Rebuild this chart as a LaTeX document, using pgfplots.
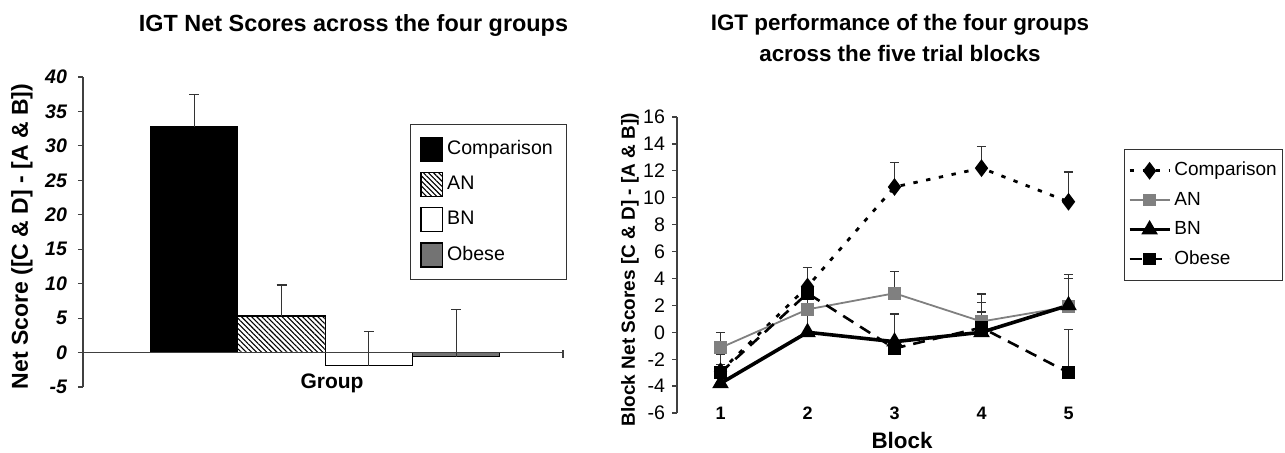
\documentclass[border=0pt]{standalone}
\usepackage{fontspec}
\setmainfont{Liberation Sans}
\usepackage{pgfplots}
\pgfplotsset{compat=1.18}
\usetikzlibrary{patterns.meta}

\begin{document}
\begin{tikzpicture}
\path[use as bounding box] (0,0) rectangle (642.5pt,226pt);

% ---------------- Left: bar chart ----------------
\begin{axis}[
  at={(41.5pt,32.5pt)}, anchor=south west,
  scale only axis, width=240pt, height=155pt,
  xmin=-0.274, xmax=5.224, ymin=-5, ymax=40,
  axis y line*=left, axis x line=none,
  ytick={-5,0,...,40}, xtick=\empty,
  tick align=outside, major tick length=2.5pt,
  y axis line style={black!75, line width=0.6pt},
  ytick style={black!75, line width=0.6pt},
  yticklabel style={font=\fontsize{9.8}{10}\selectfont\bfseries\itshape, xshift=-2pt},
  /pgf/number format/assume math mode=true,
  ybar, bar width=1, bar shift=0pt,
  clip=false,
  area legend,
  legend image code/.code={\draw[#1, line width=0.6pt] (0pt,-6pt) rectangle (10.75pt,6pt);},
  legend cell align=left,
  legend style={at={(0.681,0.848)}, anchor=north west, draw=black!80, line width=0.6pt,
    font=\fontsize{9.8}{11}\selectfont, row sep=5pt, inner xsep=5pt, inner ysep=6pt,
    nodes={inner ysep=1pt, text height=7.2pt, text depth=2pt}},
  error bars/y dir=plus, error bars/y explicit,
  error bars/error mark=|,
  error bars/error bar style={black!80, line width=0.6pt},
  error bars/error mark options={black!80, line width=0.6pt, mark size=2.5pt},
]
\addplot[fill=black, draw=black, line width=0.6pt] coordinates {(1,32.75) +- (0,4.7)};
\addlegendentry{Comparison}
\addplot[fill=white, draw=black, line width=0.6pt,
  postaction={pattern={Lines[angle=-45,distance=1.8pt,line width=0.55pt]}}] coordinates {(2,5.3) +- (0,4.5)};
\addlegendentry{AN}
\addplot[fill=white, draw=black, line width=0.6pt] coordinates {(3,-1.9) +- (0,5.0)};
\addlegendentry{BN}
\addplot[fill=black!55, draw=black, line width=0.6pt] coordinates {(4,-0.6) +- (0,6.9)};
\addlegendentry{Obese}
\draw[black!75, line width=0.6pt] (axis cs:-0.274,0) -- (axis cs:5.224,0);
\draw[black!75, line width=0.6pt] (axis cs:5.224,0.3) -- (axis cs:5.224,-0.8);
\end{axis}

% ---------------- Right: line chart ----------------
\begin{axis}[
  at={(338.5pt,19.5pt)}, anchor=south west,
  scale only axis, width=217.5pt, height=148pt,
  xmin=0.5, xmax=5.5, ymin=-6, ymax=16,
  axis y line*=left, axis x line*=bottom,
  x axis line style={draw=none}, xtick style={draw=none},
  xtick={1,2,3,4,5}, ytick={-6,-4,...,16},
  tick align=outside, major tick length=2.5pt,
  y axis line style={black!75, line width=0.6pt},
  ytick style={black!75, line width=0.6pt},
  yticklabel style={font=\fontsize{9.8}{10}\selectfont},
  xticklabel style={font=\fontsize{9}{10}\selectfont\bfseries, anchor=center, yshift=2.5pt},
  /pgf/number format/assume math mode=true,
  clip=false,
  legend image code/.code={\draw[mark repeat=2,mark phase=2,#1] plot coordinates {(0pt,0pt) (10pt,0pt) (20pt,0pt)};},
  legend cell align=left,
  legend style={at={(1.028,0.892)}, anchor=north west, draw=black!80, line width=0.6pt,
    font=\fontsize{9.5}{11}\selectfont, row sep=3.5pt, inner xsep=1.5pt, inner ysep=5pt,
    nodes={inner ysep=1pt, inner xsep=1.5pt, text height=7.2pt, text depth=2pt}},
  error bars/y dir=plus, error bars/y explicit,
  error bars/error mark=|,
  error bars/error bar style={black!80, line width=0.7pt, solid},
  error bars/error mark options={black!80, line width=0.7pt, mark size=2.3pt, solid},
]
\addplot[black, line width=1.4pt, dash pattern=on 2.2pt off 4.3pt,
  mark=diamond*, mark size=3.3pt, mark options={solid, fill=black}]
  coordinates {(1,-2.9) +- (0,1.3) (2,3.4) +- (0,1.4) (3,10.8) +- (0,1.8) (4,12.2) +- (0,1.6) (5,9.7) +- (0,2.2)};
\addlegendentry{Comparison}
\addplot[black!50, line width=0.9pt, mark=square*, mark size=2.7pt, mark options={solid, fill=black!50}]
  coordinates {(1,-1.15) +- (0,1.15) (2,1.7) +- (0,1.3) (3,2.9) +- (0,1.6) (4,0.8) +- (0,2.05) (5,1.9) +- (0,2.4)};
\addlegendentry{AN}
\addplot[black, line width=1.8pt, mark=triangle*, mark size=3pt, mark options={solid, fill=black}]
  coordinates {(1,-3.8) +- (0,0.9) (2,0.0) +- (0,2.0) (3,-0.7) +- (0,2.1) (4,0.0) +- (0,1.5) (5,2.0) +- (0,2.0)};
\addlegendentry{BN}
\addplot[black, line width=1.3pt, dash pattern=on 6pt off 4pt, mark=square*, mark size=2.5pt, mark options={solid, fill=black}]
  coordinates {(1,-3.0) +- (0,0.6) (2,2.9) +- (0,1.9) (3,-1.2) +- (0,2.5) (4,0.35) +- (0,1.85) (5,-3.0) +- (0,3.2)};
\addlegendentry{Obese}
\end{axis}

% ---------------- Titles and labels ----------------
\node[font=\fontsize{11.7}{14}\selectfont\bfseries] at (176.75pt,213.5pt) {IGT Net Scores across the four groups};
\node[align=center, font=\fontsize{11.2}{15.5}\selectfont\bfseries] at (450pt,207.25pt) {IGT performance of the four groups\\across the five trial blocks};
\node[rotate=90, font=\fontsize{11.5}{12}\selectfont\bfseries] at (11pt,107.75pt) {Net Score ([C \& D] - [A \& B])};
\node[font=\fontsize{10.5}{12}\selectfont\bfseries] at (166pt,34.5pt) {Group};
\node[rotate=90, font=\fontsize{9.5}{11}\selectfont\bfseries] at (315pt,91.25pt) {Block Net Scores [C \& D] - [A \& B])};
\node[font=\fontsize{11.2}{12}\selectfont\bfseries] at (451pt,6pt) {Block};
\end{tikzpicture}
\end{document}
